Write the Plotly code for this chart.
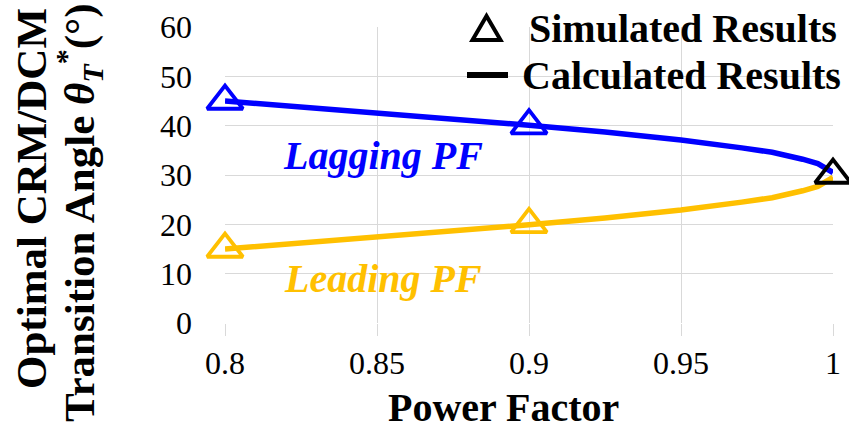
import plotly.graph_objects as go

# Calculated transition angle vs. power factor
pf_calc = [0.8, 0.825, 0.85, 0.875, 0.9, 0.925, 0.95, 0.97, 0.98, 0.99, 0.995, 1.0]
lagging_calc = [45.0, 43.8, 42.6, 41.4, 40.1, 38.7, 37.1, 35.5, 34.6, 33.2, 32.3, 30.5]
leading_calc = [15.0, 16.2, 17.4, 18.6, 19.9, 21.3, 22.9, 24.5, 25.4, 26.8, 27.7, 29.5]

# Simulated points
pf_sim = [0.8, 0.9]
lagging_sim = [45, 40]
leading_sim = [15, 20]
pf_unity = [1.0]
unity_sim = [30]

x_ticks = [0.8, 0.85, 0.9, 0.95, 1]
x_tick_text = ["0.8", "0.85", "0.9", "0.95", "1"]
y_ticks = [0, 10, 20, 30, 40, 50, 60]

BLUE = "#0000FF"
GOLD = "#FFC000"
FONT = "Liberation Serif, Times New Roman, serif"

# plot area in pixels (for placing paper-referenced text)
L, R, T, B = 225, 833, 27, 323
W, H = R - L, B - T


def px(x):
    return (x - L) / W


def py(y):
    return (B - y) / H


fig = go.Figure()

fig.add_trace(go.Scatter(x=pf_calc, y=lagging_calc, mode="lines",
                         line=dict(color=BLUE, width=5.5), showlegend=False))
fig.add_trace(go.Scatter(x=pf_calc, y=leading_calc, mode="lines",
                         line=dict(color=GOLD, width=5.5), showlegend=False))

tri = dict(symbol="triangle-up-open", size=31, line=dict(width=3.8))
fig.add_trace(go.Scatter(x=pf_sim, y=lagging_sim, mode="markers", cliponaxis=False,
                         marker=dict(**tri, color=BLUE), showlegend=False))
fig.add_trace(go.Scatter(x=pf_sim, y=leading_sim, mode="markers", cliponaxis=False,
                         marker=dict(**tri, color=GOLD), showlegend=False))
fig.add_trace(go.Scatter(x=pf_unity, y=unity_sim, mode="markers", cliponaxis=False,
                         marker=dict(**tri, color="black"), showlegend=False))

# Legend (drawn as glyphs + text so the symbols can be large)
fig.add_shape(type="path", xref="paper", yref="paper",
              path=f"M {px(486.5)},{py(16)} L {px(472.5)},{py(40)} L {px(500.5)},{py(40)} Z",
              line=dict(color="black", width=4))
fig.add_shape(type="line", xref="paper", yref="paper",
              x0=px(467), x1=px(508), y0=py(75), y1=py(75),
              line=dict(color="black", width=6))


def note(text, x, y, font, angle=0, xanchor="center"):
    fig.add_annotation(x=px(x), y=py(y), xref="paper", yref="paper", showarrow=False,
                       xanchor=xanchor, yanchor="middle", textangle=angle,
                       text=text, font=font)


legend_font = dict(family=FONT, size=40, color="black")
note("<b>Simulated Results</b>", 527, 28, legend_font, xanchor="left")
note("<b>Calculated Results</b>", 520, 75, legend_font, xanchor="left")

# Curve labels
note("<b><i>Lagging PF</i></b>", 383, 155, dict(family=FONT, size=40, color=BLUE))
note("<b><i>Leading PF</i></b>", 383, 278, dict(family=FONT, size=40, color=GOLD))

# Axis titles
title_font = dict(family=FONT, size=43, color="black")
note("<b>Optimal CRM/DCM</b>", 31, 199, title_font, angle=-90)
note("<b>Transition Angle <i>θ<sub>T</sub></i><sup>*</sup>(°)</b>", 79, 213, title_font, angle=-90)
note("<b>Power Factor</b>", 503.5, 407, dict(family=FONT, size=40, color="black"))

fig.update_xaxes(range=[0.8, 1.0], tickvals=x_ticks, ticktext=x_tick_text,
                 showgrid=True, gridcolor="#d9d9d9", gridwidth=1,
                 ticks="outside", ticklen=12, tickcolor="#d9d9d9",
                 ticklabelstandoff=0, zeroline=False, showline=False,
                 tickfont=dict(family=FONT, size=32, color="black"))
fig.update_yaxes(range=[0, 60], tickvals=y_ticks,
                 showgrid=True, gridcolor="#d9d9d9", gridwidth=1,
                 ticklabelstandoff=32, zeroline=False, showline=False,
                 tickfont=dict(family=FONT, size=32, color="black"))

fig.update_layout(
    width=849, height=431,
    margin=dict(l=L, r=849 - R, t=T, b=431 - B, autoexpand=False),
    plot_bgcolor="white", paper_bgcolor="white",
    showlegend=False,
)

fig.write_html("out.html")
